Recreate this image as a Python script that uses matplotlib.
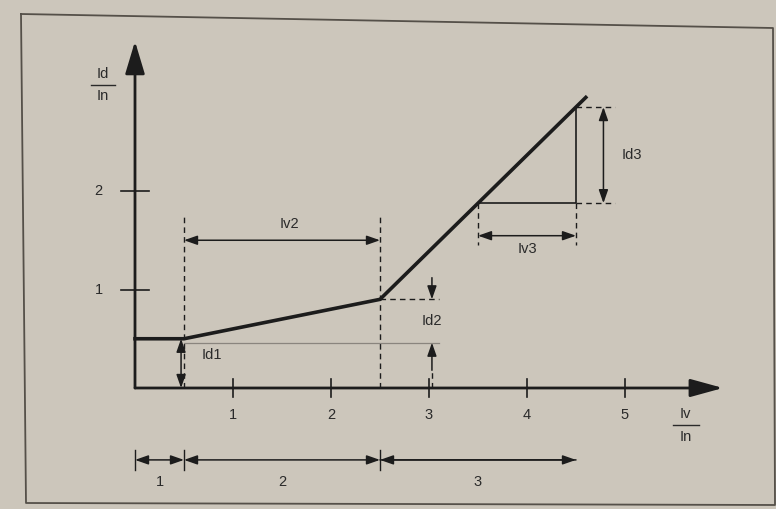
import matplotlib.pyplot as plt
from matplotlib.lines import Line2D

# characteristic: Id/In against Iv/In
curve_iv = [0.0, 0.5, 2.5, 4.6]
curve_id = [0.5, 0.5, 0.9, 2.95]

x_ticks = [1, 2, 3, 4, 5]
y_ticks = [1, 2]

# slope triangle on the last segment
tri_iv = [3.5, 4.5]

# zones under the x axis
zone_edges = [0.0, 0.5, 2.5, 4.5]
zone_names = ["1", "2", "3"]

ink = "#1c1c1c"
txt = "#2a2a2a"
paper = "#ccc6bb"
font = dict(family="Liberation Sans", fontsize=10.5, color=txt)

W, H = 776, 509
X0, UX = 135, 98.0
Y0, UY = 388, 98.5

fig = plt.figure(figsize=(W / 100, H / 100), dpi=100, facecolor=paper)
ax = fig.add_axes([0, 0, 1, 1])
ax.set_xlim(-X0 / UX, (W - X0) / UX)
ax.set_ylim(-(H - Y0) / UY, Y0 / UY)
ax.axis("off")

# page frame (photo is slightly rotated)
fx = [21, 773, 775, 26, 21]
fy = [14, 28, 505, 503, 14]
fig.add_artist(Line2D([x / W for x in fx], [1 - y / H for y in fy],
                      color="#555049", lw=1.3))


def arrow(x1, y1, x2, y2, style="<|-|>", hl=0.8, hw=0.28, lw=1.1):
    ax.annotate("", xy=(x2, y2), xytext=(x1, y1),
                arrowprops=dict(arrowstyle=f"{style},head_length={hl},head_width={hw}",
                                color=ink, lw=lw, shrinkA=0, shrinkB=0))


def dashed(xs, ys):
    ax.plot(xs, ys, color=ink, lw=1.0, dashes=(4, 3))


# axes with arrow heads
arrow(0, 0, 0, 3.52, style="-|>", hl=2.0, hw=0.6, lw=2.0)
arrow(0, 0, 6.0, 0, style="-|>", hl=2.0, hw=0.55, lw=2.0)

for t in x_ticks:
    ax.plot([t, t], [-0.09, 0.09], color=ink, lw=1.2)
    ax.text(t, -0.27, str(t), ha="center", va="center", **font)
for t in y_ticks:
    ax.plot([-0.14, 0.14], [t, t], color=ink, lw=1.2)
    ax.text(-0.37, t, str(t), ha="center", va="center", **font)

# axis titles as fractions
ax.text(-0.33, 3.19, "Id", ha="center", va="center", **font)
ax.plot([-0.45, -0.2], [3.08, 3.08], color=txt, lw=1.0)
ax.text(-0.33, 2.96, "In", ha="center", va="center", **font)
ax.text(5.62, -0.26, "Iv", ha="center", va="center", **font)
ax.plot([5.49, 5.75], [-0.38, -0.38], color=txt, lw=1.0)
ax.text(5.62, -0.5, "In", ha="center", va="center", **font)

# the characteristic
ax.plot(curve_iv, curve_id, color=ink, lw=2.6, solid_joinstyle="miter")

# Id1
ax.plot([curve_iv[1], 3.1], [0.46, 0.46], color="#8a857e", lw=0.9)
arrow(curve_iv[1] - 0.03, 0, curve_iv[1] - 0.03, curve_id[0])
ax.text(0.78, 0.34, "Id1", ha="center", va="center", **font)

# Iv2
dashed([curve_iv[1], curve_iv[1]], [0, 1.75])
dashed([curve_iv[2], curve_iv[2]], [0, 1.75])
arrow(curve_iv[1], 1.5, curve_iv[2], 1.5)
ax.text(1.58, 1.66, "Iv2", ha="center", va="center", **font)

# Id2
dashed([curve_iv[2], 3.1], [curve_id[2], curve_id[2]])
arrow(3.03, 1.12, 3.03, curve_id[2], style="-|>")
arrow(3.03, 0.18, 3.03, 0.46, style="-|>")
dashed([3.03, 3.03], [0.0, 0.18])
ax.text(3.03, 0.68, "Id2", ha="center", va="center", **font)

# Iv3 / Id3 slope triangle
slope = (curve_id[3] - curve_id[2]) / (curve_iv[3] - curve_iv[2])
lo = curve_id[2] + slope * (tri_iv[0] - curve_iv[2])
hi = curve_id[2] + slope * (tri_iv[1] - curve_iv[2])
ax.plot([tri_iv[0], tri_iv[1], tri_iv[1]], [lo, lo, hi], color=ink, lw=1.2)
dashed([tri_iv[0], tri_iv[0]], [lo, lo - 0.42])
dashed([tri_iv[1], tri_iv[1]], [lo, lo - 0.42])
arrow(tri_iv[0], lo - 0.33, tri_iv[1], lo - 0.33)
ax.text(4.0, lo - 0.47, "Iv3", ha="center", va="center", **font)
dashed([tri_iv[1], 4.9], [hi, hi])
dashed([tri_iv[1], 4.9], [lo, lo])
arrow(4.78, hi, 4.78, lo)
ax.text(4.97, (lo + hi) / 2, "Id3", ha="left", va="center", **font)

# zones
zy = -0.73
for e in zone_edges[:-1]:
    ax.plot([e, e], [zy - 0.1, zy + 0.1], color=ink, lw=1.0)
for i, name in enumerate(zone_names):
    a, b = zone_edges[i], zone_edges[i + 1]
    arrow(a, zy, b, zy, style="<|-|>" if i < 2 else "-|>")
    if i == 2:
        arrow(b, zy, a, zy, style="-|>")
    ax.text((a + b) / 2, zy - 0.22, name, ha="center", va="center", **font)

fig.savefig("out.png", dpi=100, facecolor=paper)
